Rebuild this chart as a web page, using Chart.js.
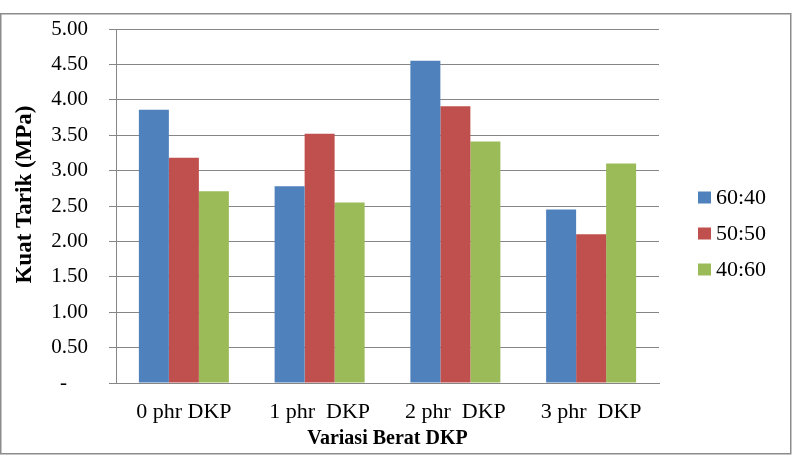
<!DOCTYPE html>
<html>
<head>
<meta charset="utf-8">
<script src="https://cdn.jsdelivr.net/npm/chart.js@4.4.1/dist/chart.umd.min.js"></script>
<style>
  html, body { margin: 0; padding: 0; background: #fff; }
  #wrap { position: relative; width: 796px; height: 456px; }
</style>
</head>
<body>
<div id="wrap"><canvas id="chart" width="796" height="456"></canvas></div>
<script>
// data
const categories = ['0 phr DKP', '1 phr  DKP', '2 phr  DKP', '3 phr  DKP'];
const seriesNames = ['60:40', '50:50', '40:60'];
const ratio6040 = [3.86, 2.78, 4.55, 2.45];
const ratio5050 = [3.18, 3.52, 3.91, 2.10];
const ratio4060 = [2.71, 2.55, 3.41, 3.10];
const seriesColors = ['#4F81BD', '#C0504D', '#9BBB59'];

const serif = '"Liberation Serif", "Times New Roman", serif';

// outer frame round the whole chart, like the excel chart border
const frame = {
    id: 'frame',
    beforeDraw(chart) {
        const ctx = chart.ctx;
        ctx.save();
        ctx.strokeStyle = '#8c8c8c';
        ctx.lineWidth = 1.5;
        ctx.strokeRect(0.75, 13.75, 790, 440);
        ctx.restore();
    }
};

// legend on the right, drawn from the datasets
const sideLegend = {
    id: 'sideLegend',
    afterDraw(chart) {
        const ctx = chart.ctx;
        const x = chart.chartArea.right + 39;
        const sets = chart.data.datasets;
        const step = 36;
        const y0 = 233.5 - step * (sets.length - 1) / 2;
        ctx.save();
        ctx.font = '22px ' + serif;
        ctx.textBaseline = 'middle';
        sets.forEach((ds, i) => {
            const y = y0 + i * step;
            ctx.fillStyle = ds.backgroundColor;
            ctx.fillRect(x, y - 6, 13, 12);
            ctx.fillStyle = '#000';
            ctx.fillText(ds.label, x + 18, y + 1);
        });
        ctx.restore();
    }
};

const ctx = document.getElementById('chart').getContext('2d');
const values = [ratio6040, ratio5050, ratio4060];

new Chart(ctx, {
    type: 'bar',
    data: {
        labels: categories,
        datasets: seriesNames.map((name, i) => ({
            label: name,
            data: values[i],
            backgroundColor: seriesColors[i],
            borderWidth: 0,
            categoryPercentage: 0.663,
            barPercentage: 1.0
        }))
    },
    options: {
        responsive: false,
        animation: false,
        layout: { padding: { left: 9, right: 137, top: 29, bottom: 0 } },
        plugins: {
            legend: { display: false },
            tooltip: { enabled: false }
        },
        scales: {
            x: {
                grid: { display: false },
                border: { display: true, color: '#868686', width: 1 },
                ticks: {
                    color: '#000',
                    padding: 8,
                    font: { family: serif, size: 22 }
                },
                title: {
                    display: true,
                    text: 'Variasi Berat DKP',
                    color: '#000',
                    padding: { top: 0, bottom: 5 },
                    font: { family: serif, size: 20, weight: 'bold' }
                },
                afterFit(scale) { scale.height = 73; }
            },
            y: {
                min: 0,
                max: 5,
                grid: { color: '#868686', tickLength: 7, lineWidth: 1 },
                border: { display: true, color: '#868686', width: 1 },
                ticks: {
                    stepSize: 0.5,
                    color: '#000',
                    padding: 0,
                    font: { family: serif, size: 21 },
                    // gap to the axis is kept in trailing spaces, excel style
                    callback: v => (v === 0 ? '-    ' : v.toFixed(2)) + '    '
                },
                title: {
                    display: true,
                    text: '    Kuat Tarik (MPa)',
                    color: '#000',
                    padding: { top: 2, bottom: 4 },
                    font: { family: serif, size: 23, weight: 'bold' }
                },
                afterFit(scale) { scale.width = 107; }
            }
        }
    },
    plugins: [frame, sideLegend]
});
</script>
</body>
</html>
